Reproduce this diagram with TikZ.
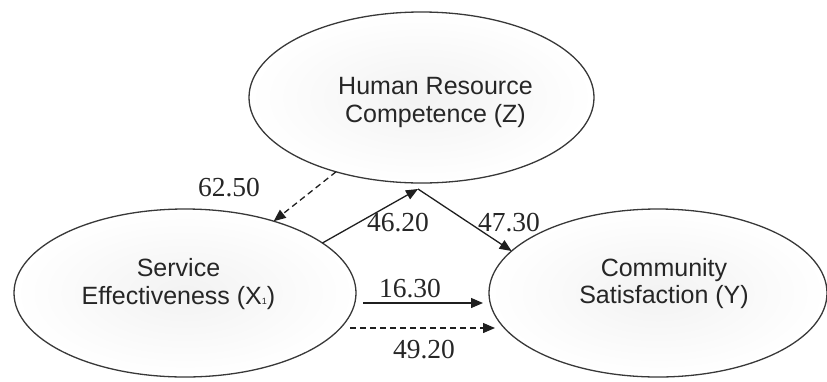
\documentclass[tikz,border=0pt]{standalone}
\usepackage{fontspec}
\setmainfont{Liberation Serif}
\newfontfamily\labelfont{Liberation Sans}
\usetikzlibrary{arrows.meta,shapes.geometric}

\tikzset{
  construct/.style={ellipse, draw=black!78, line width=1.3pt, inner sep=0pt, outer sep=0pt,
    inner color=black!5, outer color=white},
  caption/.style={align=center, font=\labelfont\fontsize{25}{27.5}\selectfont, text=black!85},
  coef/.style={font=\fontsize{27.5}{30}\selectfont, text=black!85, inner sep=0pt},
  path/.style={line width=1.3pt, draw=black!88, -{Triangle[length=12pt,width=10pt]}},
  dashpath/.style={path, dash pattern=on 6pt off 4pt}
}

\begin{document}
\begin{tikzpicture}[x=1pt,y=-1pt]
  \useasboundingbox (0,0) rectangle (827,381);

  % latent constructs
  \node[construct, minimum width=345pt, minimum height=171pt] (Z) at (421.5,97.5) {};
  \node[construct, minimum width=342pt, minimum height=168pt] (X) at (185,293) {};
  \node[construct, minimum width=338pt, minimum height=168pt] (Y) at (658,293) {};

  \node[caption] (Zt) at (435.5,102.5) {Human Resource\\Competence (Z)};
  \node[caption] (Xt) at (178.5,284) {Service\\Effectiveness (X{\fontsize{9}{9}\selectfont 1})};
  \node[caption] (Yt) at (664,283.5) {Community\\Satisfaction (Y)};

  % meeting point of the mediated paths below Z
  \coordinate (J) at (418,189);

  % structural paths
  \draw[dashpath] (Z.221.8) -- (X.39);
  \draw[path] (X.20.3) -- (J);
  \draw[path] (J) -- (Y.164.2);
  \draw[path] ([xshift=7pt,yshift=-10pt]X.east) -- ([xshift=-6pt,yshift=-10pt]Y.west);
  \draw[dashpath] ([xshift=-6pt,yshift=-35pt]X.east) -- ([xshift=6pt,yshift=-35pt]Y.west);

  % path coefficients
  \node[coef] (c1) at (229,188) {62.50};
  \node[coef] (c2) at (398,223) {46.20};
  \node[coef] (c3) at (509,223) {47.30};
  \node[coef] (c4) at (410,289) {16.30};
  \node[coef] (c5) at (424,350) {49.20};
\end{tikzpicture}
\end{document}
